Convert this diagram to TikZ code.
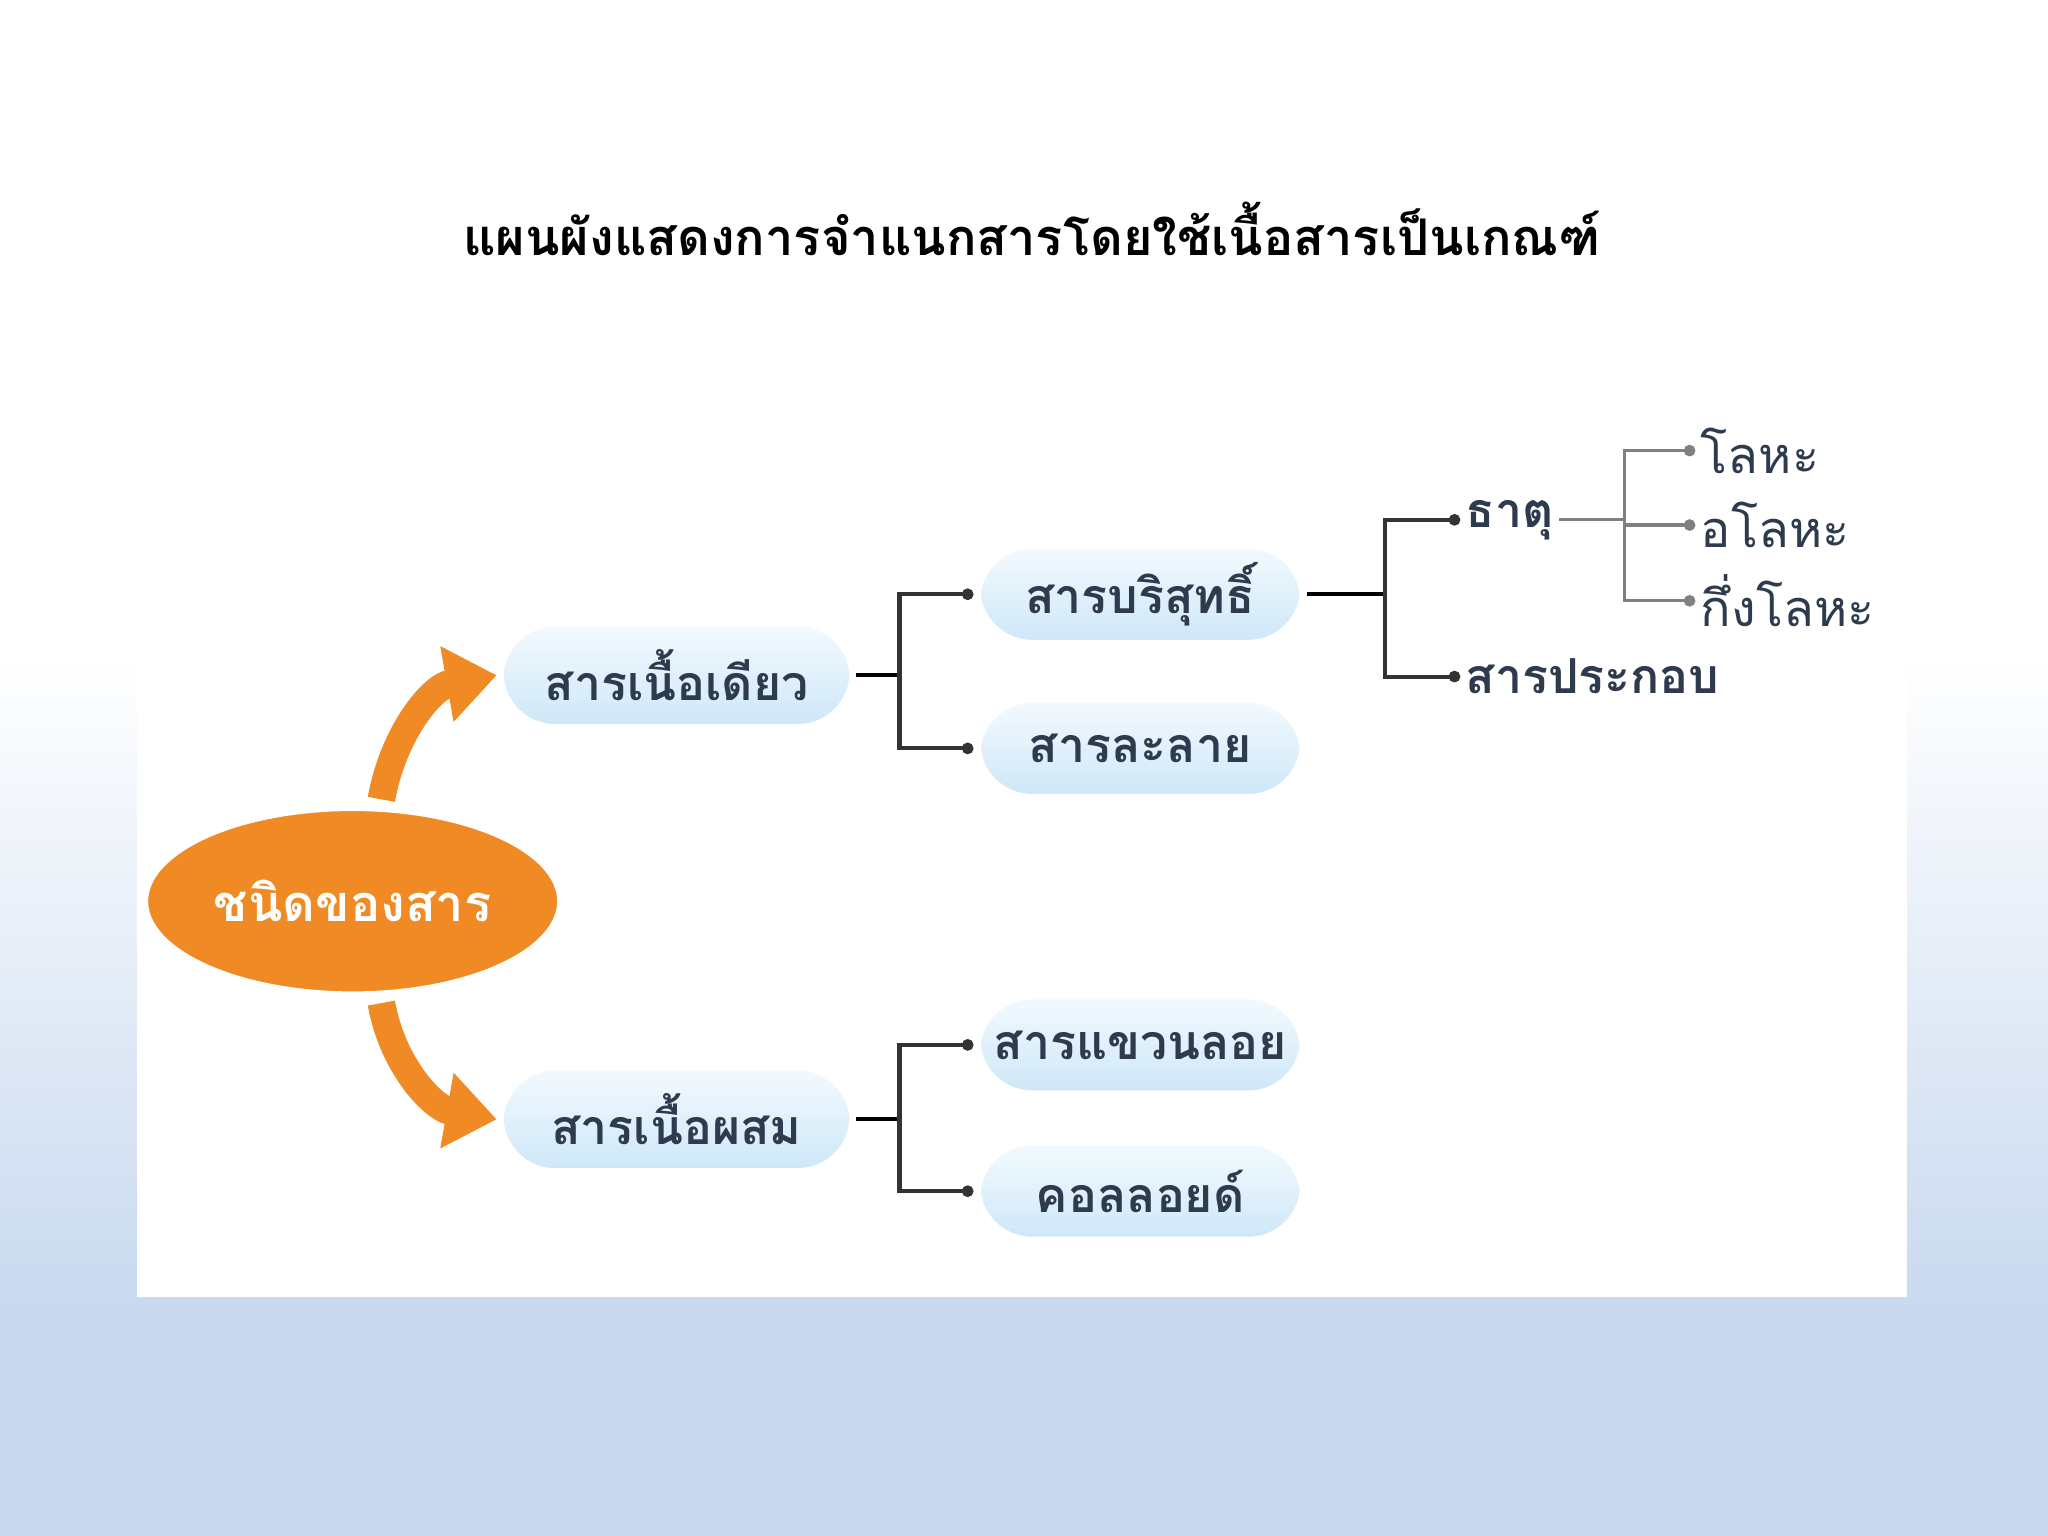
\documentclass[tikz,border=0pt]{standalone}
\usepackage{fontspec}
\newfontfamily\thai[Script=Thai]{Loma}
\usetikzlibrary{shapes.geometric,arrows.meta,calc}
\definecolor{bgb}{HTML}{C9D9EF}
\definecolor{txt}{HTML}{2E3B4E}
\definecolor{boxf}{HTML}{CDE7F8}
\definecolor{boxt}{HTML}{F4FAFE}
\definecolor{org}{HTML}{F08A24}
\tikzset{
 box/.style={rounded corners=12pt, draw=white, line width=1.5pt, top color=boxt, bottom color=boxf, minimum width=2.5cm, minimum height=0.75cm, inner xsep=2pt, font=\thai\bfseries\fontsize{10.5}{12}\selectfont, text=txt},
 lab/.style={font=\thai\bfseries\fontsize{10.5}{12}\selectfont, text=txt, inner sep=1pt},
 mlab/.style={font=\thai\fontsize{11}{13}\selectfont, text=txt, inner sep=1pt, anchor=west},
 con/.style={line width=0.9pt, draw=black!80, -{Circle[length=2.5pt]}},
 gcon/.style={line width=0.7pt, draw=gray, -{Circle[length=2.5pt]}},
 oarr/.style={line width=6pt, draw=org, -{Triangle[length=11pt,width=16pt]}}
}
\begin{document}
\begin{tikzpicture}[x=0.01cm,y=-0.01cm]
\useasboundingbox (0,0) rectangle (1568,1176);
\fill[white] (0,0) rectangle (1568,500);
\fill[top color=white, bottom color=bgb] (0,500) rectangle (1568,1000);
\fill[bgb] (0,999) rectangle (1568,1176);
\fill[white] (105,300) rectangle (1460,993);
\node[font=\thai\bfseries\fontsize{11}{13}\selectfont, text=black] (title) at (790,175) {แผนผังแสดงการจำแนกสารโดยใช้เนื้อสารเป็นเกณฑ์};
\node[ellipse, fill=org, draw=white, line width=2pt, minimum width=3.2cm, minimum height=1.45cm, inner sep=0pt, text=white, font=\thai\bfseries\fontsize{11}{13}\selectfont] (root) at (270,690) {ชนิดของสาร};
\node[box, minimum width=2.7cm, minimum height=0.8cm] (a) at (518,517) {สารเนื้อเดียว};
\node[box, minimum width=2.7cm, minimum height=0.8cm] (b) at (518,857) {สารเนื้อผสม};
\node[box] (a1) at (873,455) {สารบริสุทธิ์};
\node[box] (a2) at (873,573) {สารละลาย};
\node[box] (b1) at (873,800) {สารแขวนลอย};
\node[box] (b2) at (873,912) {คอลลอยด์};
\draw[oarr] (292,612) to[out=80,in=190] (a.west);
\draw[oarr] (292,768) to[out=-80,in=170] (b.west);
\coordinate (ja) at ($(a.east)+(33,0)$);
\coordinate (jb) at ($(b.east)+(33,0)$);
\draw[line width=0.9pt] (a.east) -- (ja);
\draw[con] (ja) |- (a1.west);
\draw[con] (ja) |- (a2.west);
\draw[line width=0.9pt] (b.east) -- (jb);
\draw[con] (jb) |- (b1.west);
\draw[con] (jb) |- (b2.west);
\node[lab, anchor=west] (e) at (1118,398) {ธาตุ};
\node[lab, anchor=west] (c) at (1118,518) {สารประกอบ};
\coordinate (jc) at ($(a1.east)+(60,0)$);
\draw[line width=0.9pt] (a1.east) -- (jc);
\draw[con] (jc) |- (e.west);
\draw[con] (jc) |- (c.west);
\node[mlab] (m1) at (1298,345) {โลหะ};
\node[mlab] (m2) at (1298,402) {อโลหะ};
\node[mlab] (m3) at (1298,460) {กึ่งโลหะ};
\coordinate (jd) at ($(e.east)+(50,0)$);
\draw[gray, line width=0.7pt] (e.east) -- (jd);
\draw[gcon] (jd) |- (m1.west);
\draw[gcon] (jd) |- (m2.west);
\draw[gcon] (jd) |- (m3.west);
\end{tikzpicture}
\end{document}
